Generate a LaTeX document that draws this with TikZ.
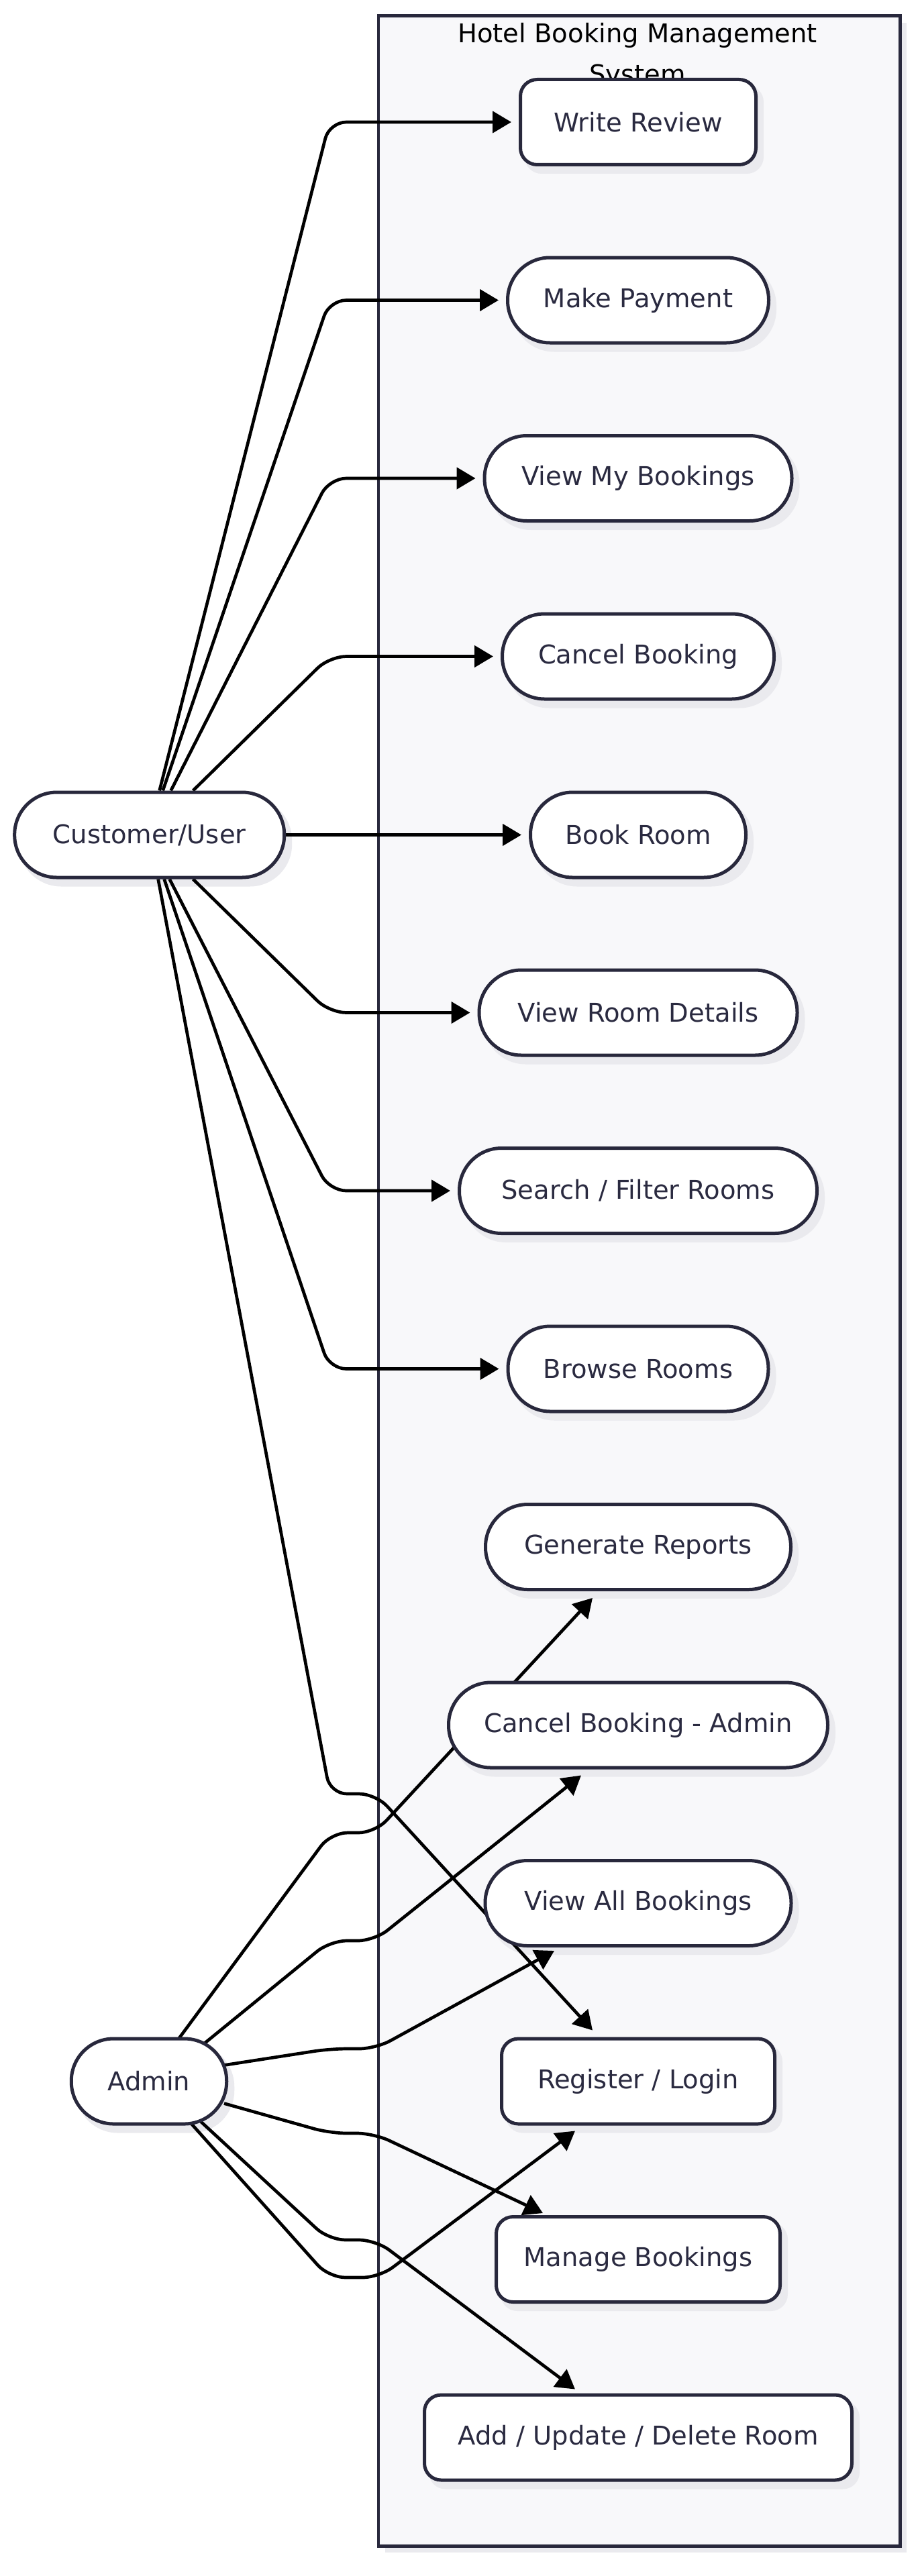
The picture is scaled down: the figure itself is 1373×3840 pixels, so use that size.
\documentclass[tikz,border=0pt]{standalone}
\usepackage{fontspec}
\setmainfont{DejaVu Sans}
\usetikzlibrary{arrows.meta,calc,shadows}
\pgfdeclarelayer{back}
\pgfdeclarelayer{shadows}
\pgfdeclarelayer{edges}
\pgfsetlayers{back,shadows,edges,main}
\definecolor{clfill}{RGB}{248,248,250}
\definecolor{ink}{RGB}{40,40,60}
\definecolor{txt}{RGB}{42,42,64}
\definecolor{shad}{RGB}{234,234,238}
\begin{document}
\begin{tikzpicture}[x=1pt,y=-1pt,
  uc/.style={draw=ink, line width=5pt, fill=white, text=txt,
    font=\fontsize{38.5}{46}\selectfont, minimum height=127pt,
    inner xsep=4pt, inner ysep=0pt},
  pill/.style={uc, rounded corners=63pt},
  rbox/.style={uc, rounded corners=25pt},
  edge/.style={draw=black, line width=4.7pt, rounded corners=25pt,
    -{Triangle[length=28pt,width=32pt]}},
]
\useasboundingbox (0,0) rectangle (1373,3840);

% use-case nodes
\node[rbox, minimum width=351pt] (wr) at (951,182) {Write Review};
\node[pill, minimum width=389pt] (mp) at (951,447.5) {Make Payment};
\node[pill, minimum width=458pt] (vm) at (951,713) {View My Bookings};
\node[pill, minimum width=405pt] (cb) at (951,978.5) {Cancel Booking};
\node[pill, minimum width=321pt] (br) at (951,1244.5) {Book Room};
\node[pill, minimum width=474pt] (vr) at (951,1509.5) {View Room Details};
\node[pill, minimum width=533pt] (sf) at (951,1775) {Search / Filter Rooms};
\node[pill, minimum width=388pt] (bw) at (951,2040.5) {Browse Rooms};
\node[pill, minimum width=455pt] (gr) at (951,2306) {Generate Reports};
\node[pill, minimum width=565pt] (ca) at (951,2571.5) {Cancel Booking - Admin};
\node[pill, minimum width=456pt] (va) at (951,2837) {View All Bookings};
\node[rbox, minimum width=407pt] (rl) at (951,3102.5) {Register / Login};
\node[rbox, minimum width=423pt] (mb) at (951,3368) {Manage Bookings};
\node[rbox, minimum width=637pt] (au) at (951,3633.5) {Add / Update / Delete Room};
% actors
\node[pill, minimum width=402pt] (cu) at (222.7,1244.5) {Customer/User};
\node[pill, minimum width=231.5pt] (ad) at (222,3102.5) {Admin};

\begin{pgfonlayer}{back}
  \fill[white] (0,0) rectangle (1373,3840);
  \node[draw=ink, line width=4.7pt, fill=clfill, inner sep=0pt, anchor=north west,
    minimum width=777.4pt, minimum height=3771.6pt,
    drop shadow={shadow xshift=10pt,shadow yshift=-10pt,fill=shad,opacity=1}]
    (sys) at (561.6,21.4) {};
  \node[anchor=north, inner sep=0pt, align=center, text=black,
    font=\fontsize{38.5}{61}\selectfont] (title) at (950,34)
    {Hotel Booking Management\\System};
\end{pgfonlayer}

\begin{pgfonlayer}{shadows}
  \foreach \n/\r in {wr/25,mp/63,vm/63,cb/63,br/63,vr/63,sf/63,bw/63,gr/63,
                     ca/63,va/63,rl/25,mb/25,au/25,cu/63,ad/63}
    \fill[shad, rounded corners=\r pt]
      ($(\n.south west)+(9,11)$) rectangle ($(\n.north east)+(9,11)$);
\end{pgfonlayer}

\begin{pgfonlayer}{edges}
  \coordinate (kx) at (491,0);
  % Customer/User
  \draw[edge] ($(cu.north)+(15,0)$) -- (kx |- wr.west) -- ($(wr.west)+(-11,0)$);
  \draw[edge] ($(cu.north)+(20,0)$) -- (kx |- mp.west) -- ($(mp.west)+(-11,0)$);
  \draw[edge] ($(cu.north)+(32,0)$) -- (kx |- vm.west) -- ($(vm.west)+(-11,0)$);
  \draw[edge] ($(cu.north)+(65,0)$) -- (kx |- cb.west) -- ($(cb.west)+(-11,0)$);
  \draw[edge] (cu.east) -- ($(br.west)+(-11,0)$);
  \draw[edge] ($(cu.south)+(65,0)$) -- (kx |- vr.west) -- ($(vr.west)+(-11,0)$);
  \draw[edge] ($(cu.south)+(30,0)$) -- (kx |- sf.west) -- ($(sf.west)+(-11,0)$);
  \draw[edge] ($(cu.south)+(22,0)$) -- (kx |- bw.west) -- ($(bw.west)+(-11,0)$);
  \coordinate (u1) at (492,2674);
  \coordinate (u2) at (560,2674);
  \draw[edge] ($(cu.south)+(13,0)$) -- (u1) -- (u2) -- ($(rl.north)+(-68,-10)$);
  % Admin
  \coordinate (g1) at (493,2732);  \coordinate (g2) at (559,2732);
  \coordinate (c1) at (492,2893);  \coordinate (c2) at (558,2893);
  \coordinate (v1) at (492,3054);  \coordinate (v2) at (560,3054);
  \coordinate (m1) at (492,3180);  \coordinate (m2) at (557,3180);
  \coordinate (r1) at (490,3395);  \coordinate (r2) at (565,3395);
  \coordinate (a1) at (490,3339);  \coordinate (a2) at (560,3339);
  \draw[edge] ($(ad.center)+(44,-63)$) -- (g1) -- (g2) -- ($(gr.south)+(-68,10)$);
  \draw[edge] ($(ad.center)+(82,-56)$) -- (c1) -- (c2) -- ($(ca.south)+(-85,9)$);
  \draw[edge] ($(ad.center)+(112,-24)$) -- (v1) -- (v2) -- ($(va.south)+(-125,5)$);
  \draw[edge] ($(ad.center)+(112,33)$) -- (m1) -- (m2) -- ($(mb.north)+(-142,-3)$);
  \draw[edge] ($(ad.center)+(62,62)$) -- (r1) -- (r2) -- ($(rl.south)+(-94,8)$);
  \draw[edge] ($(ad.center)+(75,58)$) -- (a1) -- (a2) -- ($(au.north)+(-94,-6)$);
\end{pgfonlayer}
\end{tikzpicture}
\end{document}
